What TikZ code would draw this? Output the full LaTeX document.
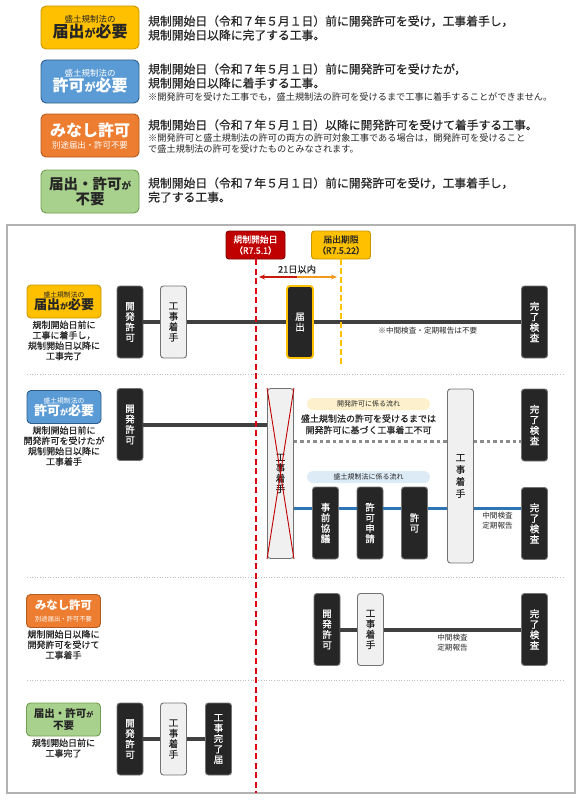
\documentclass[tikz,border=0pt]{standalone}
\usepackage{fontspec}
\setmainfont{Noto Sans CJK JP}
\newfontfamily\kmed{Noto Sans CJK JP}[FakeBold=0.6]
\usetikzlibrary{arrows.meta,positioning}

\definecolor{kyel}{HTML}{FFC000}
\definecolor{kyeld}{HTML}{C99500}
\definecolor{kblue}{HTML}{5B9BD5}
\definecolor{kblued}{HTML}{2F5D8A}
\definecolor{korg}{HTML}{ED7D31}
\definecolor{korgd}{HTML}{B35A1F}
\definecolor{kgrn}{HTML}{A9D18E}
\definecolor{kgrnd}{HTML}{6E9E4F}
\definecolor{kred}{HTML}{C00000}
\definecolor{kredl}{HTML}{E00010}
\definecolor{kredd}{HTML}{7F0000}
\definecolor{kdark}{HTML}{262626}
\definecolor{kline}{HTML}{404040}
\definecolor{kflow}{HTML}{2E75B6}
\definecolor{kpaley}{HTML}{FDF0CC}
\definecolor{kpaleb}{HTML}{DDEBF7}
\definecolor{ktext}{HTML}{262626}

\newcommand{\kfs}[2]{\fontsize{#1}{#2}\selectfont}

\begin{document}
\begin{tikzpicture}[x=1pt, y=-1pt,
  kbox/.style={draw=black!55, fill=kdark, text=white, rounded corners=3pt, line width=0.9pt,
    minimum width=26, minimum height=72, inner sep=0pt, align=center,
    font=\kmed\kfs{9.5}{10.5}},
  lbox/.style={kbox, fill=black!6, text=ktext},
  tag/.style={rounded corners=4pt, line width=0.9pt, minimum width=74, minimum height=33,
    inner sep=0pt, align=center, text=ktext},
  bigtag/.style={tag, rounded corners=5pt, minimum width=98, minimum height=43},
  datebox/.style={rounded corners=3pt, line width=0.9pt, minimum width=59, minimum height=28,
    inner sep=0pt, align=center, font=\kmed\kfs{8.8}{11}},
  desc/.style={align=center, inner sep=2pt, font=\kmed\kfs{9}{10.4}, text=ktext},
  head/.style={anchor=west, align=left, inner sep=0pt, font=\kmed\kfs{11.8}{14}, text=ktext},
  hnote/.style={anchor=west, align=left, inner sep=0pt, font=\kfs{9.2}{11}, text=ktext},
  pill/.style={rounded corners=6pt, minimum width=123, minimum height=12, inner sep=0pt,
    font=\kfs{7}{8}, text=ktext},
  pathnote/.style={align=center, inner sep=2pt, font=\kfs{7.6}{10}, text=ktext},
  flow/.style={line width=4pt, kline},
  blueflow/.style={line width=3pt, kflow},
  dotflow/.style={line width=3pt, black!45, dash pattern=on 3.5pt off 3pt},
  crossout/.style={line width=0.9pt, kred},
  reddash/.style={line width=2pt, color=kredl, dash pattern=on 6pt off 3.5pt},
  yeldash/.style={line width=1.6pt, color=kyel, dash pattern=on 5.5pt off 3.5pt},
  sep/.style={line width=0.6pt, black!25, dotted},
]
\useasboundingbox (0,0) rectangle (582,800);

%--- legend ---
\node[bigtag, fill=kyel, draw=kyeld] (t1) at (90,27.5)
  {{\kfs{8.5}{10}盛土規制法の}\\{\kfs{16}{18}\bfseries 届出{\kfs{11}{11}が}必要}};
\node[head] (h1) at (148,28)
  {規制開始日（令和７年５月１日）前に開発許可を受け，工事着手し，\\規制開始日以降に完了する工事。};

\node[bigtag, fill=kblue, draw=kblued, text=white] (t2) at (90,81.5)
  {{\kfs{8.5}{10}盛土規制法の}\\{\kfs{16}{18}\bfseries 許可{\kfs{11}{11}が}必要}};
\node[head] (h2) at (148,76)
  {規制開始日（令和７年５月１日）前に開発許可を受けたが，\\規制開始日以降に着手する工事。};
\node[hnote] (n2) at (148,97)
  {※開発許可を受けた工事でも，盛土規制法の許可を受けるまで工事に着手することができません。};

\node[bigtag, fill=korg, draw=korgd, text=white] (t3) at (90,135.5)
  {{\kfs{16}{18}\bfseries みなし許可}\\{\kfs{8.4}{10}別途届出・許可不要}};
\node[head] (h3) at (148,125)
  {規制開始日（令和７年５月１日）以降に開発許可を受けて着手する工事。};
\node[hnote] (n3) at (148,143)
  {※開発許可と盛土規制法の許可の両方の許可対象工事である場合は，開発許可を受けること\\で盛土規制法の許可を受けたものとみなされます。};

\node[bigtag, fill=kgrn, draw=kgrnd] (t4) at (90,191.5)
  {{\kfs{14.5}{16}\bfseries 届出・許可{\kfs{9.5}{10}が}}\\{\kfs{14.5}{16}\bfseries 不要}};
\node[head] (h4) at (148,190)
  {規制開始日（令和７年５月１日）前に開発許可を受け，工事着手し，\\完了する工事。};

%--- frame ---
\draw[black!30, line width=1.2pt] (7,225) rectangle (575,793);
\coordinate (framebot) at (0,793);
\coordinate (yelend) at (0,365);

\draw[sep] (27,374) -- (565,374);
\draw[sep] (27,577) -- (565,577);
\draw[sep] (27,680) -- (565,680);

%--- dates ---
\node[datebox, fill=kred, draw=kredd, text=white] (startday) at (255.5,245) {規制開始日\\（R7.5.1）};
\node[datebox, fill=kyel, draw=kyeld, text=ktext] (deadline) at (341,245) {届出期限\\（R7.5.22）};

\coordinate (a21l) at (259,277);
\coordinate (a21m) at (297,277);
\coordinate (a21r) at (337,277);
\draw[{Stealth[length=6pt,width=5pt]}-, line width=1.3pt, kred!80!korg] (a21l) -- (a21m);
\draw[-{Stealth[length=6pt,width=5pt]}, line width=1.3pt, korg!60!kyel] (a21m) -- (a21r);
\node[font=\kmed\kfs{9.2}{10}, text=ktext, above=0pt of a21m] (a21) {21日以内};

%--- row 1 ---
\node[tag, fill=kyel, draw=kyeld] (r1tag) at (64,301.5)
  {{\kfs{6.8}{8}盛土規制法の}\\{\kfs{13}{14}\bfseries 届出{\kfs{8}{8}が}必要}};
\node[desc, below=0pt of r1tag] (r1desc) {規制開始日前に\\工事に着手し，\\規制開始日以降に\\工事完了};
\node[kbox] (r1kai) at (130,322) {開\\発\\許\\可};
\node[lbox] (r1cha) at (173.5,322) {工\\事\\着\\手};
\node[kbox, draw=kyel, line width=1.8pt] (r1todo) at (300,322) {届\\出};
\node[kbox] (r1kan) at (534.5,322) {完\\了\\検\\査};
\draw[flow] (r1kai) -- (r1cha);
\draw[flow] (r1cha) -- (r1todo);
\draw[flow] (r1todo) -- node[pathnote, pos=0.55, below=1pt] {※中間検査・定期報告は不要} (r1kan);

%--- row 2 ---
\node[tag, fill=kblue, draw=kblued, text=white] (r2tag) at (64,407)
  {{\kfs{6.8}{8}盛土規制法の}\\{\kfs{13}{14}\bfseries 許可{\kfs{8}{8}が}必要}};
\node[desc, below=0pt of r2tag] (r2desc) {規制開始日前に\\開発許可を受けたが\\規制開始日以降に\\工事着手};
\node[kbox] (r2kai) at (130,424.5) {開\\発\\許\\可};
\node[lbox, minimum height=170] (r2no) at (280.5,473.5) {工\\事\\着\\手};
\draw[flow] (r2kai) -- (r2kai -| r2no.west);
\draw[crossout] (r2no.north west) -- (r2no.south east);
\draw[crossout] (r2no.north east) -- (r2no.south west);

\node[pill, fill=kpaley] (p1) at (368.5,404) {開発許可に係る流れ};
\node[align=center, inner sep=0pt, font=\kmed\kfs{9}{11.5}, text=ktext, below=4pt of p1] (r2msg)
  {盛土規制法の許可を受けるまでは\\開発許可に基づく工事着工不可};
\node[lbox, minimum height=174, font=\kmed\kfs{9.5}{12}] (r2cha) at (460.5,476) {工\\事\\着\\手};
\node[kbox] (r2kan1) at (534.5,425) {完\\了\\検\\査};
\coordinate (r2dot) at (0,441);
\draw[dotflow] (r2no.east |- r2dot) -- (r2cha.west |- r2dot);
\draw[dotflow] (r2cha.east |- r2dot) -- (r2kan1.west |- r2dot);

\node[pill, fill=kpaleb] (p2) at (368.5,477) {盛土規制法に係る流れ};
\node[kbox] (r2kyo) at (325.5,523) {事\\前\\協\\議};
\node[kbox] (r2shin) at (370,523) {許\\可\\申\\請};
\node[kbox] (r2kyoka) at (414.5,523) {許\\可};
\node[kbox] (r2kan2) at (534.5,523.5) {完\\了\\検\\査};
\coordinate (r2blue) at (0,508);
\draw[blueflow] (r2no.east |- r2blue) -- (r2kyo.west |- r2blue);
\draw[blueflow] (r2kyo.east |- r2blue) -- (r2shin.west |- r2blue);
\draw[blueflow] (r2shin.east |- r2blue) -- (r2kyoka.west |- r2blue);
\draw[blueflow] (r2kyoka.east |- r2blue) -- (r2cha.west |- r2blue);
\draw[blueflow] (r2cha.east |- r2blue) -- node[pathnote, below=1pt] {中間検査\\定期報告} (r2kan2.west |- r2blue);

%--- row 3 ---
\node[tag, fill=korg, draw=korgd, text=white] (r3tag) at (63.5,611)
  {{\kfs{11.4}{13}\bfseries みなし許可}\\{\kfs{6.3}{7}別途届出・許可不要}};
\node[desc, below=0pt of r3tag] (r3desc) {規制開始日以降に\\開発許可を受けて\\工事着手};
\node[kbox] (r3kai) at (327,629.5) {開\\発\\許\\可};
\node[lbox] (r3cha) at (370.5,629.5) {工\\事\\着\\手};
\node[kbox] (r3kan) at (534.5,629.5) {完\\了\\検\\査};
\draw[flow] (r3kai) -- (r3cha);
\draw[flow] (r3cha) -- node[pathnote, below=1pt] {中間検査\\定期報告} (r3kan);

%--- row 4 ---
\node[tag, fill=kgrn, draw=kgrnd] (r4tag) at (63.5,719.5)
  {{\kfs{10.5}{12}\bfseries 届出・許可{\kfs{7}{7}が}}\\{\kfs{10.5}{12}\bfseries 不要}};
\node[desc, below=0pt of r4tag] (r4desc) {規制開始日前に\\工事完了};
\node[kbox] (r4kai) at (130,739) {開\\発\\許\\可};
\node[lbox] (r4cha) at (173.5,739) {工\\事\\着\\手};
\node[kbox] (r4kan) at (218.5,739) {工\\事\\完\\了\\届};
\draw[flow] (r4kai) -- (r4cha);
\draw[flow] (r4cha) -- (r4kan);

%--- date lines ---
\draw[reddash] (startday.south) -- (startday.south |- framebot);
\draw[yeldash] (deadline.south) -- (deadline.south |- yelend);

\end{tikzpicture}
\end{document}
